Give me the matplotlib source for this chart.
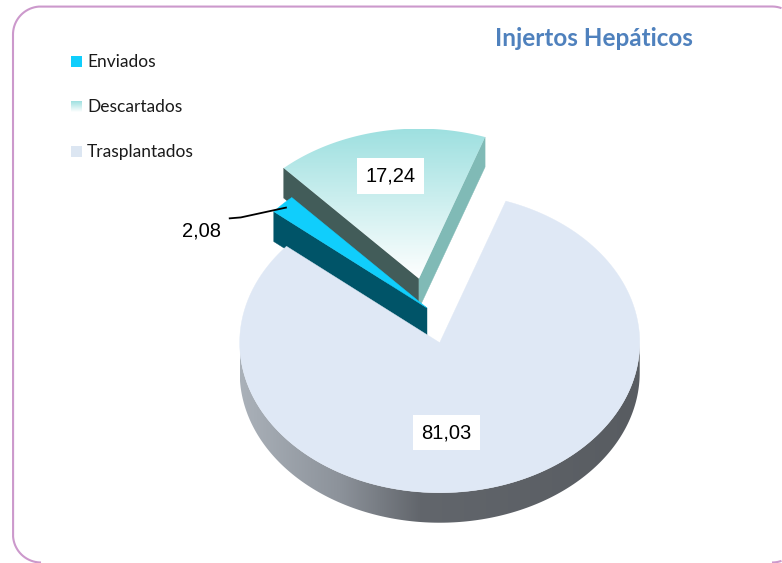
import numpy as np
import matplotlib
matplotlib.use("Agg")
import matplotlib.pyplot as plt
from matplotlib.patches import Polygon, Rectangle
from matplotlib.colors import LinearSegmentedColormap

# data
labels = ["Enviados", "Descartados", "Trasplantados"]
values = [2.08, 17.24, 81.03]
value_text = ["2,08", "17,24", "81,03"]
title = "Injertos Hepáticos"

# geometry / style (pixels, y grows downwards)
W, H = 782, 563
CX, CY = 427, 308
RX, RY = 200, 150
DEPTH = 30
START = 140.0
explode = [0.0, 0.2, 0.24]
top_colors = ["#10cefc", None, "#dfe8f5"]
side_a_colors = ["#005468", "#425c59", "#005468"]
side_b_colors = ["#005468", "#80bab6", "#005468"]
label_r = [0.97, 0.7, 0.6]
label_shift = [0.0, 0.0, -12.0]

wall_cmap = LinearSegmentedColormap.from_list(
    "wall", [(0.0, "#aab1b9"), (0.25, "#8c929a"), (0.45, "#62666c"), (1.0, "#585c61")]
)
teal_cmap = LinearSegmentedColormap.from_list("teal", ["#9ee0e0", "#ffffff"])


def pt(off, theta, r, z=0.0):
    t = np.radians(theta)
    x = CX + RX * (off[0] + r * np.cos(t))
    y = CY - RY * (off[1] + r * np.sin(t)) + z
    return np.column_stack([np.atleast_1d(x), np.atleast_1d(y)])


def arc(off, a, b, z=0.0, n=200):
    return pt(off, np.linspace(a, b, n), 1.0, z)


def gradient_fill(ax, poly, cmap, horizontal, extent=None):
    patch = Polygon(poly, closed=True, facecolor="none", edgecolor="none")
    ax.add_patch(patch)
    if extent is None:
        x0, y0 = poly.min(axis=0)
        x1, y1 = poly.max(axis=0)
        extent = (x0, x1, y1, y0)
    grad = np.linspace(0, 1, 256)
    grad = grad[None, :] if horizontal else grad[:, None]
    im = ax.imshow(grad, cmap=cmap, extent=extent, aspect="auto",
                   interpolation="bilinear", zorder=patch.get_zorder())
    im.set_clip_path(patch)


def rounded_frame(x0, y0, x1, y1, r, n=60):
    # top-right -> top-left -> bottom-left -> bottom-right, open on the right
    pts = []
    corners = [((x1 - r, y0 + r), 0, -90), ((x0 + r, y0 + r), -90, -180),
               ((x0 + r, y1 - r), 180, 90), ((x1 - r, y1 - r), 90, 0)]
    for (cx, cy), t0, t1 in corners:
        t = np.radians(np.linspace(t0, t1, n))
        pts.append(np.column_stack([cx + r * np.cos(t), cy + r * np.sin(t)]))
    pts = np.vstack(pts)
    return pts[pts[:, 0] <= W - 0.5]


def main():
    fig = plt.figure(figsize=(W / 100, H / 100), dpi=100)
    ax = fig.add_axes((0, 0, 1, 1))
    ax.set_axis_off()

    fr = np.array(values) / np.sum(values)
    spans = fr * 360.0
    starts = START - np.concatenate([[0], np.cumsum(spans)[:-1]])

    slices = []
    for i in range(len(values)):
        a = starts[i]
        b = a - spans[i]
        mid = (a + b) / 2
        off = explode[i] * np.array([np.cos(np.radians(mid)), np.sin(np.radians(mid))])
        slices.append((a, b, mid, off))

    # back to front: Descartados, Enviados, Trasplantados
    for i in [1, 0, 2]:
        a, b, mid, off = slices[i]
        apex = pt(off, 0, 0.0)
        apex_b = pt(off, 0, 0.0, DEPTH)

        # outer wall (front half only)
        for k in range(-2, 2):
            lo = max(b, 180 + 360 * k)
            hi = min(a, 360 + 360 * k)
            if hi > lo:
                wall = np.vstack([arc(off, lo, hi), arc(off, hi, lo, DEPTH)])
                if i == 2:
                    ext = (CX + RX * (off[0] - 1), CX + RX * (off[0] + 1),
                           wall[:, 1].max(), wall[:, 1].min())
                    gradient_fill(ax, wall, wall_cmap, True, ext)
                else:
                    ax.add_patch(Polygon(wall, closed=True, facecolor=side_a_colors[i],
                                         edgecolor="none"))

        # radial faces
        if np.cos(np.radians(a)) < 0:
            face = np.vstack([apex, pt(off, a, 1.0), pt(off, a, 1.0, DEPTH), apex_b])
            ax.add_patch(Polygon(face, closed=True, facecolor=side_a_colors[i],
                                 edgecolor=side_a_colors[i], lw=0.3))
        if np.cos(np.radians(b)) > 0:
            face = np.vstack([apex, pt(off, b, 1.0), pt(off, b, 1.0, DEPTH), apex_b])
            ax.add_patch(Polygon(face, closed=True, facecolor=side_b_colors[i],
                                 edgecolor=side_b_colors[i], lw=0.3))

        # top face
        top = np.vstack([apex, arc(off, a, b)])
        if top_colors[i] is None:
            gradient_fill(ax, top, teal_cmap, False)
        else:
            ax.add_patch(Polygon(top, closed=True, facecolor=top_colors[i],
                                 edgecolor=top_colors[i], lw=0.3))

    # value labels
    for i in range(len(values)):
        a, b, mid, off = slices[i]
        p = pt(off, mid + label_shift[i], label_r[i])[0]
        if i == 0:
            elbow = p + np.array([-46, 10])
            tail = elbow + np.array([-12, 1])
            ax.plot([tail[0], elbow[0], p[0]], [tail[1], elbow[1], p[1]],
                    color="black", lw=1.3, solid_capstyle="butt")
            ax.text(tail[0] - 8, tail[1] + 13, value_text[i], ha="right", va="center",
                    fontsize=14.5, family="Liberation Sans", color="black")
        else:
            ax.text(p[0], p[1], value_text[i], ha="center", va="center",
                    fontsize=14.5, family="Liberation Sans", color="black",
                    bbox=dict(facecolor="white", edgecolor="none", pad=6))

    # legend
    legend_colors = ["#10cefc", None, "#dce6f2"]
    for i, lab in enumerate(labels):
        yc = 61.5 + 45 * i
        sq = np.array([[71, yc - 5.5], [82, yc - 5.5], [82, yc + 5.5], [71, yc + 5.5]])
        if legend_colors[i] is None:
            gradient_fill(ax, sq, teal_cmap, False)
        else:
            ax.add_patch(Rectangle((71, yc - 5.5), 11, 11, facecolor=legend_colors[i],
                                   edgecolor="none"))
        ax.text(87, yc + 5.5, lab, ha="left", va="baseline", fontsize=12.5,
                family="Lato", color="#1a1a1a")

    ax.text(594, 45.5, title, ha="center", va="baseline", fontsize=17.5,
            family="Lato", fontweight="bold", color="#4f81bd")

    # frame: only the part that lies inside the picture
    frame = rounded_frame(13, 6.5, 800, 562.5, 28)
    gap = np.where(np.diff(frame[:, 0]) > 100)[0]
    parts = np.split(frame, gap + 1) if len(gap) else [frame]
    for part in parts:
        ax.plot(part[:, 0], part[:, 1], color="#cc99cc", lw=1.5,
                solid_capstyle="butt", solid_joinstyle="round")

    ax.set_xlim(0, W)
    ax.set_ylim(H, 0)
    fig.savefig("out.png", dpi=100, facecolor="white")


if __name__ == "__main__":
    main()
